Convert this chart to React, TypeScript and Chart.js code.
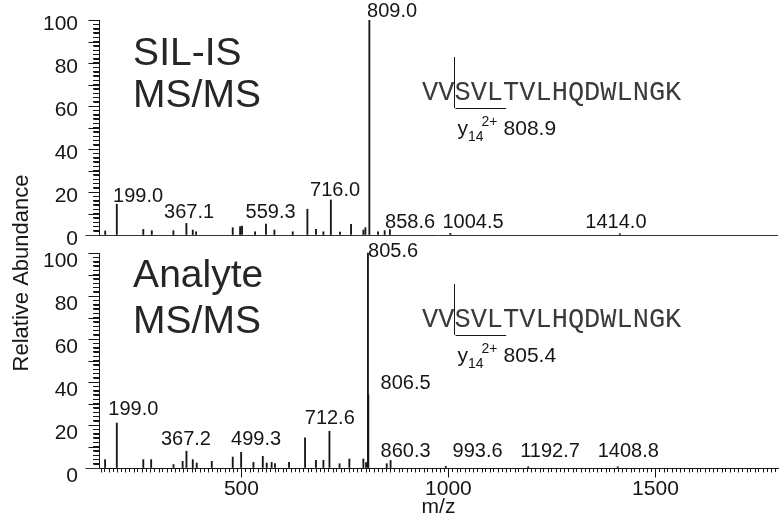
import React, { useEffect, useRef } from 'react';
import { Chart, registerables } from 'chart.js';

Chart.register(...registerables);

// ---------------- data ----------------
// SIL-IS MS/MS spectrum (m/z, relative abundance %)
const silMz = [171, 199.0, 263, 283.5, 335.7, 367.1, 382.5, 390.5, 479, 496.8, 501.5, 533, 559.3, 579.6, 624, 659.3, 680, 698, 716.0, 738, 764.8, 794.5, 799.4, 809.0, 830, 846, 858.6, 1004.5, 1414.0];
const silInt = [1.9, 14.3, 2.6, 2.0, 2.0, 5.4, 2.3, 1.5, 3.4, 3.9, 4.2, 1.5, 5.1, 2.3, 1.5, 12.0, 2.6, 1.5, 16.3, 1.4, 5.0, 2.3, 3.4, 100, 1.5, 2.0, 2.5, 0.8, 0.6];

// Analyte MS/MS spectrum
const anaMz = [170.7, 199.0, 263, 282, 336, 358, 367.2, 382.5, 392, 428.4, 479, 499.3, 529, 551.6, 561, 573, 581, 615, 653.7, 680, 698, 712.6, 737, 760.7, 794.5, 801, 805.6, 806.5, 851, 860.3, 993.6, 1192.7, 1408.8];
const anaInt = [3.9, 20.9, 3.9, 3.9, 1.6, 3.1, 7.8, 3.9, 2.3, 3.1, 5.1, 7.3, 2.6, 5.4, 2.3, 2.6, 2.0, 2.6, 14.0, 3.6, 3.6, 17.1, 2.0, 4.2, 4.2, 2.5, 100, 34, 2.0, 3.5, 0.8, 0.6, 0.6];

// peak labels
const silLabels = ['809.0', '199.0', '367.1', '559.3', '716.0', '858.6', '1004.5', '1414.0'];
const anaLabels = ['805.6', '806.5', '199.0', '367.2', '499.3', '712.6', '860.3', '993.6', '1192.7', '1408.8'];

const silTitle = ['SIL-IS', 'MS/MS'];
const anaTitle = ['Analyte', 'MS/MS'];
const peptide = 'VVSVLTVLHQDWLNGK';
const ionName = 'y';
const ionSub = '14';
const ionSup = '2+';
const silIonMz = '808.9';
const anaIonMz = '805.4';

const yTitle = 'Relative Abundance';
const xTitle = 'm/z';

// axis ranges / ticks
const X_MIN = 156;
const X_MAX = 1796;
const X_MINOR = 20;
const X_LABEL_EVERY = 500;
const Y_MINOR = 2;
const Y_LABEL_EVERY = 20;
const Y_MAJOR_MARK = 10;
const Y_BOT_MAX = 108.4;

// ---------------- annotation layout (in data coordinates) ----------------
const silLabelAt = [[863.8, 103.9], [250.4, 18.1], [373.6, 10.4], [570.4, 10.4], [726.2, 20.9], [907.3, 6], [1059.5, 6], [1404.6, 6]];
const anaLabelAt = [[866.2, 100.9], [896.4, 39.4], [239, 27], [365.9, 13.3], [535.4, 13.3], [713.4, 23.1], [896.4, 7.6], [1070.3, 7.6], [1245.4, 7.6], [1434.5, 7.6]];
const silTitleAt = [[238.4, 79], [238.4, 59.7]];
const anaTitleAt = [[238.4, 84.3], [238.4, 62.7]];
const silPepAt = [936.3, 66.3];
const anaPepAt = [936.3, 69.1];

const SANS = '"Liberation Sans", Arial, Helvetica, sans-serif';
const MONO = '"Liberation Mono", "Courier New", monospace';
const INK = '#161616';

function seg(ctx: CanvasRenderingContext2D, x1: number, y1: number, x2: number, y2: number) {
  ctx.beginPath();
  ctx.moveTo(x1, y1);
  ctx.lineTo(x2, y2);
  ctx.stroke();
}

function drawPeptide(ctx: CanvasRenderingContext2D, sx: any, sy: any, at: number[], mass: string) {
  const left = sx.getPixelForValue(at[0]);
  const cy = sy.getPixelForValue(at[1]);
  ctx.save();
  ctx.font = `27px ${MONO}`;
  ctx.fillStyle = '#3a3a3a';
  ctx.textAlign = 'left';
  ctx.textBaseline = 'middle';
  ctx.fillText(peptide, left, cy);
  const cw = ctx.measureText('V').width;
  const div = Math.round(left + 2 * cw) + 0.5;
  ctx.strokeStyle = INK;
  ctx.lineWidth = 1;
  seg(ctx, div, cy - 35.5, div, cy + 15.5);
  const uy = Math.round(cy + 15.5) + 0.5;
  seg(ctx, div + 1, uy, div + 3 * cw + 3, uy);
  ctx.fillStyle = INK;
  ctx.textBaseline = 'alphabetic';
  let x = div + 3;
  ctx.font = `21px ${SANS}`;
  ctx.fillText(ionName, x, cy + 42.5);
  x += ctx.measureText(ionName).width;
  ctx.font = `14px ${SANS}`;
  ctx.fillText(ionSub, x, cy + 49);
  const subW = ctx.measureText(ionSub).width;
  ctx.fillText(ionSup, x + subW - 2, cy + 34);
  const supW = ctx.measureText(ionSup).width;
  ctx.font = `21px ${SANS}`;
  ctx.fillText(mass, x + subW - 2 + supW + 6, cy + 42.5);
  ctx.restore();
}

const annotate = {
  id: 'annotate',
  afterDraw(chart: any) {
    const { ctx, chartArea } = chart;
    const sx = chart.scales.x;
    const yT = chart.scales.yTop;
    const yB = chart.scales.yBot;
    ctx.save();
    ctx.strokeStyle = INK;
    ctx.fillStyle = INK;
    ctx.lineWidth = 1;
    const ax = Math.round(chartArea.left) + 0.5;

    [yT, yB].forEach((s: any) => {
      // axis line 0..100
      seg(ctx, ax, s.getPixelForValue(0), ax, s.getPixelForValue(100));
      // tick marks every 2, longer every 10
      for (let v = 0; v <= 100; v += Y_MINOR) {
        const py = Math.round(s.getPixelForValue(v)) + 0.5;
        const len = v % Y_MAJOR_MARK === 0 ? 11 : 6;
        seg(ctx, ax - len, py, ax, py);
      }
      // baseline stub left of the axis
      const by = Math.round(s.getPixelForValue(0)) + 0.5;
      ctx.strokeStyle = '#333';
      seg(ctx, ax - 14, by, ax, by);
      ctx.strokeStyle = INK;
    });

    // x tick marks
    const bY = Math.round(yB.getPixelForValue(0)) + 0.5;
    for (let v = Math.ceil(X_MIN / X_MINOR) * X_MINOR; v <= X_MAX; v += X_MINOR) {
      const px = Math.round(sx.getPixelForValue(v)) + 0.5;
      const len = v % X_LABEL_EVERY === 0 ? 9 : 4;
      seg(ctx, px, bY, px, bY + len);
    }

    // peak labels
    ctx.font = `20px ${SANS}`;
    ctx.textAlign = 'center';
    ctx.textBaseline = 'middle';
    silLabels.forEach((t, i) => ctx.fillText(t, sx.getPixelForValue(silLabelAt[i][0]), yT.getPixelForValue(silLabelAt[i][1])));
    anaLabels.forEach((t, i) => ctx.fillText(t, sx.getPixelForValue(anaLabelAt[i][0]), yB.getPixelForValue(anaLabelAt[i][1])));

    // panel titles
    ctx.font = `39px ${SANS}`;
    ctx.fillStyle = '#262626';
    ctx.textAlign = 'left';
    ctx.textBaseline = 'alphabetic';
    silTitle.forEach((t, i) => ctx.fillText(t, sx.getPixelForValue(silTitleAt[i][0]), yT.getPixelForValue(silTitleAt[i][1])));
    anaTitle.forEach((t, i) => ctx.fillText(t, sx.getPixelForValue(anaTitleAt[i][0]), yB.getPixelForValue(anaTitleAt[i][1])));

    // peptide annotations
    drawPeptide(ctx, sx, yT, silPepAt, silIonMz);
    drawPeptide(ctx, sx, yB, anaPepAt, anaIonMz);

    // y axis title
    ctx.save();
    ctx.fillStyle = INK;
    ctx.font = `22px ${SANS}`;
    ctx.textAlign = 'center';
    ctx.textBaseline = 'middle';
    ctx.translate(22, (chartArea.top + chartArea.bottom) / 2 + 29);
    ctx.rotate(-Math.PI / 2);
    ctx.fillText(yTitle, 0, 0);
    ctx.restore();

    ctx.restore();
  },
};

function yTicks(): { value: number }[] {
  const out: { value: number }[] = [];
  for (let v = 0; v <= 100; v += Y_MINOR) out.push({ value: v });
  return out;
}

function xTicks(): { value: number }[] {
  const out: { value: number }[] = [];
  for (let v = Math.ceil(X_MIN / X_MINOR) * X_MINOR; v <= X_MAX; v += X_MINOR) out.push({ value: v });
  return out;
}

function fitY(s: any) {
  s.width = 99;
  s.paddingTop = 0;
  s.paddingBottom = 0;
}

export default function App() {
  const ref = useRef<HTMLCanvasElement | null>(null);
  useEffect(() => {
    document.body.style.margin = '0';
    const canvas = ref.current;
    if (!canvas) return;
    Chart.defaults.font.family = SANS;
    const yTickFont = { size: 21, family: SANS };
    const yTickOpts = {
      autoSkip: false,
      padding: 15,
      labelOffset: 4,
      color: INK,
      font: yTickFont,
      callback: (v: any) => (Number(v) % Y_LABEL_EVERY === 0 ? String(v) : ''),
    };
    const chart = new Chart(canvas, {
      type: 'bar',
      data: {
        datasets: [
          {
            label: 'Analyte MS/MS',
            data: anaMz.map((m, i) => ({ x: m, y: anaInt[i] })),
            xAxisID: 'x',
            yAxisID: 'yBot',
            backgroundColor: INK,
            borderWidth: 0,
            barThickness: 1.2,
            grouped: false,
          } as any,
          {
            label: 'SIL-IS MS/MS',
            data: silMz.map((m, i) => ({ x: m, y: silInt[i] })),
            xAxisID: 'x',
            yAxisID: 'yTop',
            backgroundColor: INK,
            borderWidth: 0,
            barThickness: 1.2,
            grouped: false,
          } as any,
        ],
      },
      options: {
        responsive: false,
        animation: false,
        devicePixelRatio: 1,
        layout: { padding: { top: 20, right: 2, left: 0, bottom: 0 } },
        plugins: { legend: { display: false }, tooltip: { enabled: false } },
        scales: {
          x: {
            type: 'linear',
            min: X_MIN,
            max: X_MAX,
            offset: false,
            afterBuildTicks: (s: any) => { s.ticks = xTicks(); },
            afterFit: (s: any) => { s.height = 50; s.paddingLeft = 0; s.paddingRight = 0; },
            ticks: {
              autoSkip: false,
              maxRotation: 0,
              padding: 5,
              color: INK,
              font: { size: 21, family: SANS },
              callback: (v: any) => (Number(v) % X_LABEL_EVERY === 0 ? String(v) : ''),
            },
            grid: { drawOnChartArea: false, tickLength: 4, tickColor: INK },
            border: { display: true, color: INK, width: 1 },
            title: { display: true, text: xTitle, color: INK, font: { size: 21, family: SANS, lineHeight: 1 }, padding: 0 },
          },
          yBot: {
            type: 'linear',
            position: 'left',
            stack: 'panels',
            stackWeight: 233,
            min: 0,
            max: Y_BOT_MAX,
            afterBuildTicks: (s: any) => { s.ticks = yTicks(); },
            afterFit: fitY,
            ticks: { ...yTickOpts, labelOffset: 8 },
            grid: { drawOnChartArea: false, tickLength: 6, tickColor: INK },
            border: { display: false },
          },
          yTop: {
            type: 'linear',
            position: 'left',
            stack: 'panels',
            stackWeight: 215,
            min: 0,
            max: 100,
            afterBuildTicks: (s: any) => { s.ticks = yTicks(); },
            afterFit: fitY,
            ticks: yTickOpts,
            grid: {
              drawOnChartArea: true,
              tickLength: 6,
              tickColor: INK,
              color: (c: any) => (c.tick && c.tick.value === 0 ? '#333' : 'rgba(0,0,0,0)'),
            },
            border: { display: false },
          },
        },
      } as any,
      plugins: [annotate],
    });
    return () => chart.destroy();
  }, []);

  return (
    <div style={{ position: 'fixed', left: 0, top: 0, width: 780, height: 518, background: '#fff' }}>
      <canvas ref={ref} width={780} height={518} style={{ display: 'block' }} />
    </div>
  );
}
